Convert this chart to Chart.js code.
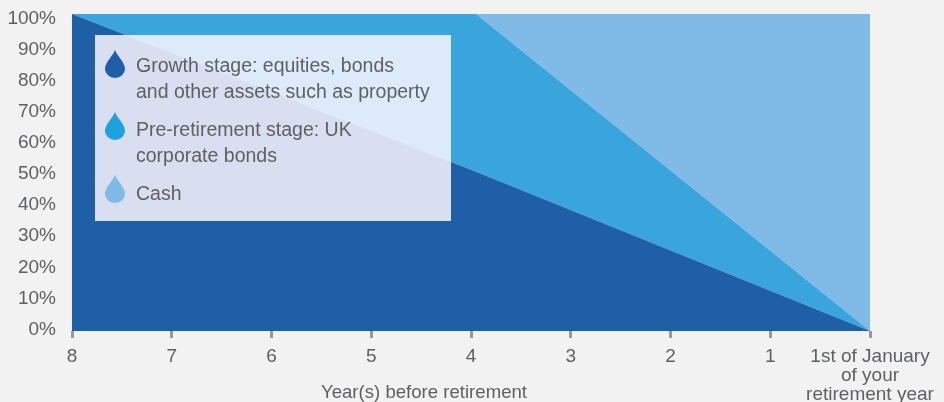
<!DOCTYPE html>
<html>
<head>
<meta charset="utf-8">
<title>Lifestyle fund stages</title>
<script src="https://cdn.jsdelivr.net/npm/chart.js@4"></script>
<style>
  html, body { margin: 0; padding: 0; background: #f2f2f2; }
  body { position: relative; width: 944px; height: 402px; overflow: hidden; font-family: "Liberation Sans", sans-serif; color: #5f6062; }
  #chart { position: absolute; left: 0; top: 0; }
  #legend { position: absolute; left: 95px; top: 35px; width: 356px; height: 186px; background: rgba(255,248,255,0.83); }
  .item { position: absolute; left: 41px; font-size: 19.5px; line-height: 26px; white-space: nowrap; }
  .drop { position: absolute; left: 10px; width: 20px; height: 28px; }
  #xtitle { position: absolute; left: 224px; width: 400px; top: 383px; text-align: center; font-size: 18.6px; line-height: 18px; }
</style>
</head>
<body>
<canvas id="chart" width="944" height="402"></canvas>
<div id="legend">
  <svg class="drop" style="top:15px" viewBox="0 0 20 28"><path d="M10 0C8 6 0 12 0 19a10 9 0 0 0 20 0C20 12 12 6 10 0Z" fill="#1e5fa8"/></svg>
  <div class="item" style="top:17px">Growth stage: equities, bonds<br>and other assets such as property</div>
  <svg class="drop" style="top:77px" viewBox="0 0 20 28"><path d="M10 0C8 6 0 12 0 19a10 9 0 0 0 20 0C20 12 12 6 10 0Z" fill="#1ea2dd"/></svg>
  <div class="item" style="top:81px">Pre-retirement stage: UK<br>corporate bonds</div>
  <svg class="drop" style="top:140px" viewBox="0 0 20 28"><path d="M10 0C8 6 0 12 0 19a10 9 0 0 0 20 0C20 12 12 6 10 0Z" fill="#80bae6"/></svg>
  <div class="item" style="top:145px">Cash</div>
</div>
<div id="xtitle">Year(s) before retirement</div>
<script>
const years = [8, 3.95, 0];
const growth = [100, 50.2, 0];
const preRetirement = [0, 49.8, 0];
const cash = [0, 0, 100];

const yearTicks = [8, 7, 6, 5, 4, 3, 2, 1, 0];
const lastYearLabel = ['1st of January', 'of your', 'retirement year'];
const percentTicks = [100, 90, 80, 70, 60, 50, 40, 30, 20, 10, 0];

const textColor = '#5f6062';
const tickFont = { family: '"Liberation Sans", sans-serif', size: 19, lineHeight: 1 };

function points(values) {
    return values.map((v, i) => ({ x: years[i], y: v }));
}

function area(label, values, color, fill) {
    return {
        label: label,
        data: points(values),
        backgroundColor: color,
        borderWidth: 0,
        pointRadius: 0,
        tension: 0,
        fill: fill
    };
}

const ctx = document.getElementById('chart');
const myChart = new Chart(ctx, {
    type: 'line',
    data: {
        datasets: [
            area('Growth stage', growth, '#1e5fa8', 'origin'),
            area('Pre-retirement stage', preRetirement, '#3aa5dd', '-1'),
            area('Cash', cash, '#80bae6', '-1')
        ]
    },
    options: {
        responsive: false,
        animation: false,
        layout: { autoPadding: false, padding: { top: 14, right: 74, left: 0, bottom: 0 } },
        plugins: { legend: { display: false }, tooltip: { enabled: false } },
        scales: {
            x: {
                type: 'linear',
                reverse: true,
                min: 0,
                max: 8,
                afterBuildTicks: (axis) => { axis.ticks = yearTicks.map((v) => ({ value: v })); },
                afterFit: (axis) => {
                    axis.height = 71;
                    axis.paddingLeft = 0;
                    axis.paddingRight = 0;
                },
                grid: { drawOnChartArea: false, tickColor: '#999999', tickWidth: 3, tickLength: 7 },
                border: { display: false },
                ticks: {
                    autoSkip: false,
                    maxRotation: 0,
                    color: textColor,
                    font: tickFont,
                    padding: 9,
                    callback: (v) => (v === 0 ? lastYearLabel : String(v))
                }
            },
            y: {
                display: false,
                stacked: true,
                min: 0,
                max: 100
            },
            // labels in the reference sit a little tighter than the plot height
            yLabels: {
                type: 'linear',
                position: 'left',
                min: -0.47,
                max: 101.43,
                afterBuildTicks: (axis) => { axis.ticks = percentTicks.map((v) => ({ value: v })); },
                afterFit: (axis) => {
                    axis.width = 72;
                    axis.paddingTop = 0;
                    axis.paddingBottom = 0;
                },
                grid: { display: false, drawTicks: false },
                border: { display: false },
                ticks: {
                    autoSkip: false,
                    color: textColor,
                    font: tickFont,
                    padding: 16,
                    callback: (v) => v + '%'
                }
            }
        }
    }
});
</script>
</body>
</html>
